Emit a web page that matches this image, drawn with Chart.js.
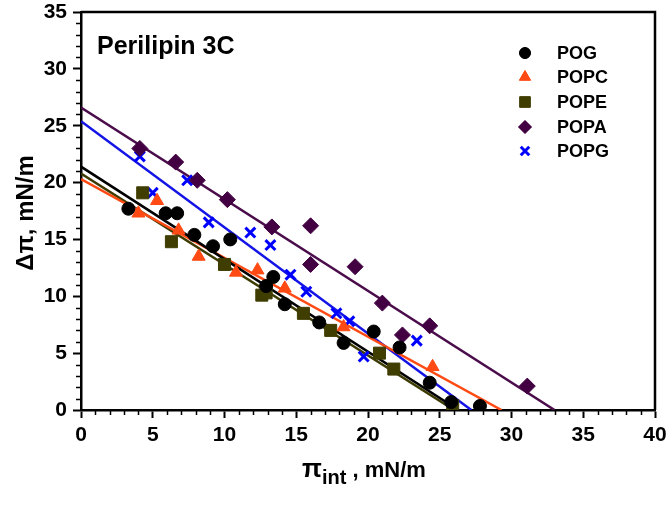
<!DOCTYPE html>
<html>
<head>
<meta charset="utf-8">
<script src="https://cdn.jsdelivr.net/npm/chart.js@4/dist/chart.umd.min.js"></script>
<style>
  html,body{margin:0;padding:0;background:#fff;}
  #c{display:block;}
</style>
</head>
<body>
<canvas id="c" width="667" height="506"></canvas>
<script>
// ---- data ----
const seriesNames = ["POG", "POPC", "POPE", "POPA", "POPG"];
const xTicks = [0, 5, 10, 15, 20, 25, 30, 35, 40];
const yTicks = [0, 5, 10, 15, 20, 25, 30, 35];

const pogX = [3.3, 5.9, 6.7, 7.9, 9.2, 10.4, 12.9, 13.4, 14.2, 16.6, 18.3, 20.4, 22.2, 24.3, 25.8, 27.8];
const pogY = [17.7, 17.3, 17.3, 15.4, 14.4, 15.0, 10.9, 11.7, 9.3, 7.7, 5.9, 6.9, 5.5, 2.4, 0.7, 0.35];

const popcX = [4.0, 5.3, 6.8, 8.2, 10.8, 12.3, 14.2, 18.3, 24.5];
const popcY = [17.3, 18.4, 15.8, 13.5, 12.1, 12.3, 10.7, 7.3, 3.8];

const popeX = [4.3, 6.3, 10.0, 12.6, 12.9, 15.5, 17.4, 20.8, 21.8, 25.9];
const popeY = [19.1, 14.8, 12.8, 10.1, 10.3, 8.5, 7.0, 5.0, 3.6, 0.4];

const popaX = [4.1, 6.6, 8.1, 10.2, 13.3, 16.0, 16.0, 19.1, 21.0, 22.4, 24.3, 31.1];
const popaY = [23.0, 21.8, 20.2, 18.5, 16.1, 16.2, 12.8, 12.6, 9.4, 6.6, 7.4, 2.1];

const popgX = [4.1, 5.0, 7.4, 8.9, 11.8, 13.2, 14.6, 15.7, 17.8, 18.7, 19.7, 23.4];
const popgY = [22.3, 19.1, 20.2, 16.5, 15.6, 14.5, 11.9, 10.4, 8.5, 7.8, 4.7, 6.1];

// fitted lines: [y-intercept at x=0, x-intercept at y=0]
const fitPOG  = [21.4, 26.3];
const fitPOPC = [20.3, 29.3];
const fitPOPE = [20.8, 26.0];
const fitPOPA = [26.6, 33.0];
const fitPOPG = [25.4, 27.2];

// ---- styles ----
const styles = {
  POG:  {color:"#000000", line:"#000000", shape:"circle",   r:6.5, lr:5.5, bw:1},
  POPC: {color:"#ff4a14", line:"#ff4a14", shape:"triangle", r:7.5, lr:6.5, bw:1},
  POPE: {color:"#3f3d00", line:"#3d3b00", shape:"rect",     r:8.5, lr:7.5, bw:1},
  POPA: {color:"#420042", line:"#4a0c4a", shape:"rectRot",  r:8,   lr:6.5, bw:1},
  POPG: {color:"#0000ff", line:"#1414e6", shape:"crossRot", r:7,   lr:6,   bw:3}
};

function pts(xs, ys){ return xs.map((x,i)=>({x:x, y:ys[i]})); }
function fitPts(f){ return [{x:0, y:f[0]}, {x:f[1], y:0}]; }

const pointSets = [pts(pogX,pogY), pts(popcX,popcY), pts(popeX,popeY), pts(popaX,popaY), pts(popgX,popgY)];
const fitSets = [fitPOG, fitPOPC, fitPOPE, fitPOPA, fitPOPG];

const datasets = [];
seriesNames.forEach((n,i)=>{
  const s = styles[n];
  datasets.push({
    label: n, type:"scatter", data: pointSets[i], order: 1,
    pointStyle: s.shape, pointRadius: s.r, pointHoverRadius: s.r,
    backgroundColor: s.color, borderColor: s.color, borderWidth: s.bw, showLine:false
  });
});
seriesNames.forEach((n,i)=>{
  const s = styles[n];
  datasets.push({
    label: n + " fit", type:"line", data: fitPts(fitSets[i]), order: 2,
    borderColor: s.line, borderWidth: 2.5, pointRadius: 0, fill:false, tension:0
  });
});

const FONT = "'Liberation Sans', Arial, sans-serif";

const decor = {
  id: "decor",
  afterDraw(chart){
    const ctx = chart.ctx, a = chart.chartArea;
    const xs = chart.scales.x, ys = chart.scales.y;
    ctx.save();
    // box
    ctx.strokeStyle = "#000"; ctx.lineWidth = 2.5;
    ctx.beginPath();
    ctx.moveTo(a.left, a.top); ctx.lineTo(a.right, a.top); ctx.lineTo(a.right, a.bottom);
    ctx.stroke();
    // minor ticks
    ctx.lineWidth = 1.5;
    ctx.beginPath();
    for(let v=1; v<40; v++){ if(v%5===0) continue;
      const px = Math.round(xs.getPixelForValue(v))+0.5;
      ctx.moveTo(px, a.bottom); ctx.lineTo(px, a.bottom+5);
    }
    for(let v=1; v<35; v++){ if(v%5===0) continue;
      const py = Math.round(ys.getPixelForValue(v))+0.5;
      ctx.moveTo(a.left, py); ctx.lineTo(a.left-5, py);
    }
    ctx.stroke();

    // annotation
    ctx.fillStyle = "#000";
    ctx.font = "bold 25px " + FONT;
    ctx.textBaseline = "alphabetic"; ctx.textAlign = "left";
    ctx.fillText("Perilipin 3C", 97, 54);

    // legend
    const rows = [53, 77, 102, 127, 151];
    ctx.font = "bold 18px " + FONT;
    seriesNames.forEach((n,i)=>{
      const s = styles[n];
      ctx.fillStyle = s.color; ctx.strokeStyle = s.color; ctx.lineWidth = s.bw;
      Chart.helpers.drawPoint(ctx, {pointStyle:s.shape, radius:s.lr, borderWidth:s.bw}, 525, rows[i]);
      if(s.shape !== "crossRot"){ ctx.fill(); }
      ctx.fillStyle = "#000";
      ctx.textBaseline = "middle";
      ctx.fillText(n, 557, rows[i]+1);
    });

    // x title: π_int , mN/m
    ctx.textBaseline = "alphabetic";
    ctx.fillStyle = "#000";
    let x = 302, base = 477;
    ctx.font = "bold 26px " + FONT;
    ctx.fillText("π", x, base); x += ctx.measureText("π").width;
    ctx.font = "bold 20px " + FONT;
    ctx.fillText("int", x, base+7); x += ctx.measureText("int").width;
    ctx.font = "bold 22px " + FONT;
    ctx.fillText(" , mN/m", x, base);

    // y title
    ctx.save();
    ctx.translate(33, 213);
    ctx.rotate(-Math.PI/2);
    ctx.font = "bold 24px " + FONT;
    ctx.textAlign = "center";
    ctx.fillText("Δπ, mN/m", 0, 0);
    ctx.restore();

    ctx.restore();
  }
};

new Chart(document.getElementById("c"), {
  type: "scatter",
  data: { datasets },
  options: {
    responsive: false, animation: false, devicePixelRatio: 1,
    layout: { padding: { top: 12, right: 12, left: 0, bottom: 0 } },
    plugins: { legend: { display: false }, tooltip: { enabled: false } },
    scales: {
      x: {
        type: "linear", min: xTicks[0], max: xTicks[xTicks.length-1],
        afterBuildTicks: s => { s.ticks = xTicks.map(v=>({value:v})); },
        afterFit: s => { s.height = 96; s.paddingLeft = 0; s.paddingRight = 0; },
        ticks: { color:"#000", font:{family:FONT, size:21, weight:"bold"}, padding: 5, maxRotation:0 },
        grid: { drawOnChartArea:false, drawTicks:true, tickLength:8, tickWidth:2, tickColor:"#000" },
        border: { color:"#000", width:2.5 }
      },
      y: {
        type: "linear", min: yTicks[0], max: yTicks[yTicks.length-1],
        afterBuildTicks: s => { s.ticks = yTicks.map(v=>({value:v})); },
        afterFit: s => { s.width = 81; s.paddingTop = 0; s.paddingBottom = 0; },
        ticks: { color:"#000", font:{family:FONT, size:21, weight:"bold"}, padding: 6 },
        grid: { drawOnChartArea:false, drawTicks:true, tickLength:8, tickWidth:2, tickColor:"#000" },
        border: { color:"#000", width:2.5 }
      }
    }
  },
  plugins: [decor]
});
</script>
</body>
</html>
